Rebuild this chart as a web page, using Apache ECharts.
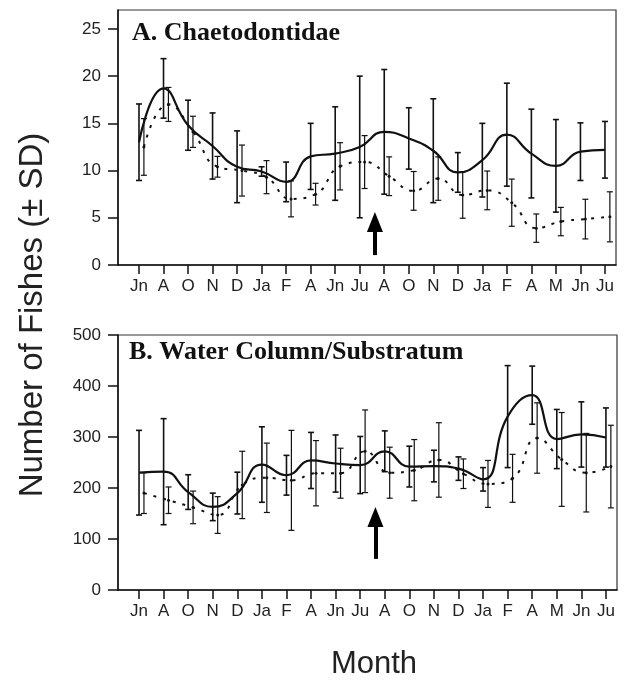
<!DOCTYPE html>
<html>
<head>
<meta charset="utf-8">
<script src="https://cdn.jsdelivr.net/npm/echarts@6/dist/echarts.min.js"></script>
<style>
html,body{margin:0;padding:0;background:#fff;}
#chart{width:630px;height:680px;}
</style>
</head>
<body>
<div id="chart"></div>
<script>
// ---- data ----
const months = ['Jn','A','O','N','D','Ja','F','A','Jn','Ju','A','O','N','D','Ja','F','A','M','Jn','Ju'];

// Panel A: Chaetodontidae
const chaetSolidMean = [13.0,18.7,14.8,12.6,10.4,9.9,8.8,11.5,11.8,12.5,14.1,13.4,12.1,9.8,11.1,13.8,11.8,10.5,12.0,12.2];
const chaetSolidSD   = [4.05,3.15,2.65,3.5,3.8,0.5,2.1,3.5,4.95,7.5,6.6,3.25,5.5,2.1,3.9,5.45,4.7,4.9,3.05,3.0];
const chaetDotMean   = [12.5,17.0,14.1,10.4,10.0,9.3,7.0,7.5,10.45,10.9,9.4,7.85,9.15,7.4,7.9,6.6,3.9,4.6,4.86,5.1];
const chaetDotSD     = [3.0,1.8,1.65,1.1,2.7,1.75,1.9,1.15,2.5,2.8,2.05,2.05,2.3,2.45,2.05,2.5,1.5,1.5,2.1,2.65];

// Panel B: Water Column/Substratum
const wcSolidMean = [230,232,192,163,190,246,225,254,248,245,272,242,243,238,217,340,382,296,305,299];
const wcSolidSD   = [83,104,34,27,41,74,39,55,56,56,40,40,31,23,23,100,57,58,64,58];
const wcDotMean   = [190,176,162,147,206,220,215,229,229,272,230,235,255,228,208,219,298,256,230,242];
const wcDotSD     = [40,26,32,36,66,68,98,64,49,81,50,60,73,29,46,47,69,92,77,81];

const chaetTicks = [0,5,10,15,20,25];
const wcTicks = [0,100,200,300,400,500];

// arrow annotations (data coordinates)
const arrowA = [[9.62, 1.05],[9.62, 4.55]];
const arrowB = [[9.62, 61],[9.62, 143]];

// ---- styling ----
const DOT_OFFSET = 0.2;
const FONT = '"Liberation Sans", Arial, sans-serif';
const SERIF = '"Liberation Serif", "Times New Roman", serif';
const INK = '#111';

function errSeries(gi, means, sds, offset, width, cap) {
  return {
    type: 'custom', xAxisIndex: gi, yAxisIndex: gi, z: 3, silent: true,
    data: means.map((m, i) => [i + offset, m - sds[i], m + sds[i]]),
    encode: { x: 0, y: [1, 2] },
    renderItem: function (params, api) {
      const x = api.value(0);
      const lo = api.coord([x, api.value(1)]);
      const hi = api.coord([x, api.value(2)]);
      const st = { stroke: INK, lineWidth: width };
      return { type: 'group', children: [
        { type: 'line', shape: { x1: lo[0], y1: lo[1], x2: hi[0], y2: hi[1] }, style: st },
        { type: 'line', shape: { x1: lo[0] - cap, y1: lo[1], x2: lo[0] + cap, y2: lo[1] }, style: st },
        { type: 'line', shape: { x1: hi[0] - cap, y1: hi[1], x2: hi[0] + cap, y2: hi[1] }, style: st }
      ]};
    }
  };
}

function solidLine(gi, means, arrow) {
  return {
    type: 'line', xAxisIndex: gi, yAxisIndex: gi, z: 4, silent: true,
    data: means.map((m, i) => [i, m]),
    smooth: 0.5, showSymbol: false, symbol: 'none',
    lineStyle: { color: INK, width: 2.2 },
    markLine: {
      silent: true, symbol: ['none', 'triangle'], symbolSize: [16, 20],
      label: { show: false },
      lineStyle: { color: '#000', width: 4, type: 'solid' },
      data: [[{ coord: arrow[0] }, { coord: arrow[1] }]]
    }
  };
}

function dotLine(gi, means) {
  return {
    type: 'line', xAxisIndex: gi, yAxisIndex: gi, z: 4, silent: true,
    data: means.map((m, i) => [i + DOT_OFFSET, m]),
    smooth: 0.5, showSymbol: true, symbol: 'circle', symbolSize: 3,
    itemStyle: { color: INK },
    lineStyle: { color: INK, width: 2, type: [3, 7] }
  };
}

const idx = months.map((_, i) => i);

function xAxis(gi) {
  return {
    type: 'value', gridIndex: gi, min: -0.856, max: 19.45,
    splitLine: { show: false },
    axisLine: { show: true, onZero: false, lineStyle: { color: INK, width: 1.5 } },
    axisTick: { show: true, inside: false, length: 9, customValues: idx, lineStyle: { color: INK, width: 1.5 } },
    axisLabel: { show: true, customValues: idx, margin: 13, color: '#222', fontFamily: FONT, fontSize: 17,
      formatter: v => months[Math.round(v)] }
  };
}

function yAxis(gi, max, ticks) {
  return {
    type: 'value', gridIndex: gi, min: 0, max: max,
    splitLine: { show: false },
    axisLine: { show: true, onZero: false, lineStyle: { color: INK, width: 1.5 } },
    axisTick: { show: true, inside: false, length: 10, customValues: ticks, lineStyle: { color: INK, width: 1.5 } },
    axisLabel: { show: true, customValues: ticks, margin: 17, color: '#222', fontFamily: FONT, fontSize: 17 }
  };
}

const chart = echarts.init(document.getElementById('chart'), null, { renderer: 'canvas' });
chart.setOption({
  animation: false,
  backgroundColor: '#fff',
  grid: [
    { left: 118, top: 10, width: 498, height: 255, show: true, borderColor: '#333', borderWidth: 1.2, backgroundColor: 'transparent' },
    { left: 118, top: 335, width: 499, height: 255, show: true, borderColor: '#333', borderWidth: 1.2, backgroundColor: 'transparent' }
  ],
  title: [
    { text: 'A. Chaetodontidae', left: 132, top: 20, padding: 0,
      textStyle: { fontFamily: SERIF, fontWeight: 'bold', fontSize: 26, color: '#111' } },
    { text: 'B. Water Column/Substratum', left: 129, top: 339, padding: 0,
      textStyle: { fontFamily: SERIF, fontWeight: 'bold', fontSize: 26, color: '#111' } }
  ],
  xAxis: [xAxis(0), xAxis(1)],
  yAxis: [yAxis(0, 27, chaetTicks), yAxis(1, 500, wcTicks)],
  series: [
    errSeries(0, chaetSolidMean, chaetSolidSD, 0, 1.6, 3),
    errSeries(0, chaetDotMean, chaetDotSD, DOT_OFFSET, 1.2, 3),
    dotLine(0, chaetDotMean),
    solidLine(0, chaetSolidMean, arrowA),
    errSeries(1, wcSolidMean, wcSolidSD, 0, 1.6, 3),
    errSeries(1, wcDotMean, wcDotSD, DOT_OFFSET, 1.2, 3),
    dotLine(1, wcDotMean),
    solidLine(1, wcSolidMean, arrowB)
  ],
  graphic: [
    { type: 'text', x: 33, y: 315, rotation: Math.PI / 2, silent: true,
      style: { text: 'Number of Fishes (± SD)', fontFamily: FONT, fontSize: 33, fill: '#222', align: 'center', verticalAlign: 'middle' } },
    { type: 'text', x: 374, y: 664, silent: true,
      style: { text: 'Month', fontFamily: FONT, fontSize: 31, fill: '#222', align: 'center', verticalAlign: 'middle' } }
  ]
});
</script>
</body>
</html>
